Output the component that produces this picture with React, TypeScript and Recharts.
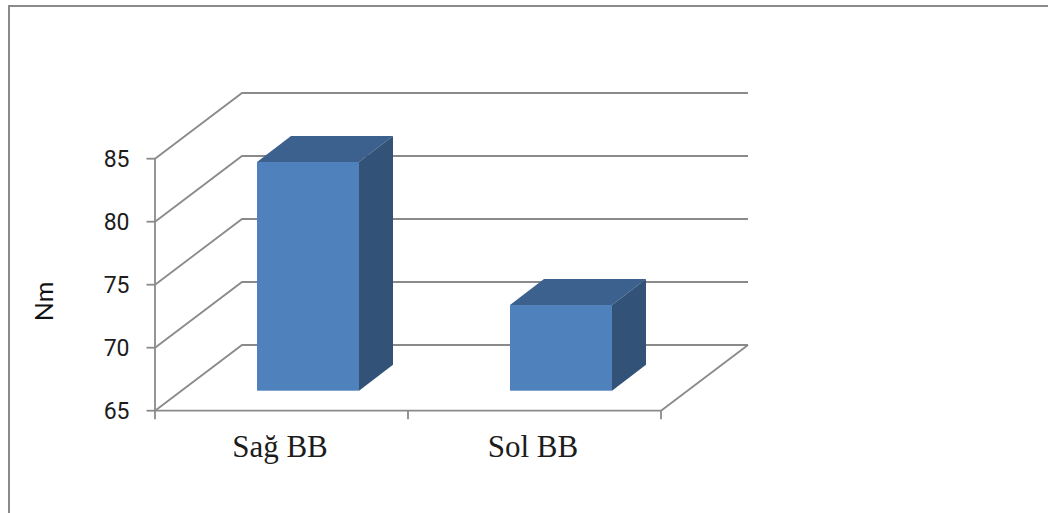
import React from 'react';
import { BarChart, Bar, XAxis, YAxis, CartesianGrid, Label } from 'recharts';

// Series and axis contents
const categories = ['Sağ BB', 'Sol BB'];
const torqueValues = [83.15, 71.8];
const yTicks = [65, 70, 75, 80, 85];
const yDomain = [65, 85];
const yTitle = 'Nm';

const rows = categories.map((name, i) => ({ name, value: torqueValues[i] }));

// Layout of the chart frame
const WIDTH = 1048;
const HEIGHT = 513;
const PLOT_LEFT = 155;
const PLOT_RIGHT = 661;
const PLOT_TOP = 158.7;
const PLOT_BOTTOM = 410.7;

// Oblique projection: wall offset, bar position within the floor, bar depth
const WALL_DX = 87;
const WALL_DY = -65.7;
const BAR_SHIFT_DX = 26;
const BAR_SHIFT_DY = -20;
const BAR_DEPTH_DX = 34;
const BAR_DEPTH_DY = -26;

const LINE = '#8a8a8a';
const LINE_W = 1.8;
const FRONT = '#4F81BD';
const TOP = '#3C618F';
const SIDE = '#325278';
const TEXT = '#1c1c1c';

const GridLine = (props: any) => {
  const { x1, y1, x2 } = props;
  const isFloor = Math.abs(y1 - PLOT_BOTTOM) < 1;
  const bx1 = x1 + WALL_DX;
  const bx2 = x2 + WALL_DX;
  const by = y1 + WALL_DY;
  return (
    <g key={`wall-${y1}`}>
      <polyline points={`${x1},${y1} ${bx1},${by} ${bx2},${by}`} fill="none" stroke={LINE} strokeWidth={LINE_W} />
      {isFloor && <line x1={x2} y1={y1} x2={bx2} y2={by} stroke={LINE} strokeWidth={LINE_W} />}
    </g>
  );
};

const Box = (props: any) => {
  const { x, y, width, height } = props;
  const l = x + BAR_SHIFT_DX;
  const r = l + width;
  const t = y + BAR_SHIFT_DY;
  const b = t + height;
  const dx = BAR_DEPTH_DX;
  const dy = BAR_DEPTH_DY;
  return (
    <g>
      <path d={`M${l},${t} L${l + dx},${t + dy} L${r + dx},${t + dy} L${r},${t} Z`} fill={TOP} />
      <path d={`M${r},${t} L${r + dx},${t + dy} L${r + dx},${b + dy} L${r},${b} Z`} fill={SIDE} />
      <rect x={l} y={t} width={width} height={height} fill={FRONT} />
    </g>
  );
};

const CategoryTick = (props: any) => {
  const { x, index, visibleTicksCount, payload } = props;
  const band = (PLOT_RIGHT - PLOT_LEFT) / visibleTicksCount;
  const left = x - band / 2;
  const right = x + band / 2;
  const tickEnd = PLOT_BOTTOM + 8.5;
  return (
    <g>
      <line x1={left} y1={PLOT_BOTTOM} x2={left} y2={tickEnd} stroke={LINE} strokeWidth={LINE_W} />
      {index === visibleTicksCount - 1 && (
        <line x1={right} y1={PLOT_BOTTOM} x2={right} y2={tickEnd} stroke={LINE} strokeWidth={LINE_W} />
      )}
      <text
        x={x - 1.5}
        y={457}
        textAnchor="middle"
        fontFamily="'Liberation Serif', serif"
        fontSize={31}
        fill={TEXT}
      >
        {payload.value}
      </text>
    </g>
  );
};

// Rotated value-axis title, centred on its own anchor point
const AxisTitle = () => (
  <text
    transform="translate(53 301.5) rotate(-90)"
    textAnchor="middle"
    fontFamily="Lato"
    fontSize={25}
    fill="#111"
  >
    {yTitle}
  </text>
);

export default function App() {
  return (
    <div style={{ position: 'absolute', left: 0, top: 0, width: WIDTH, height: HEIGHT, overflow: 'hidden', background: '#fff' }}>
      <div
        style={{
          position: 'absolute',
          left: 8,
          top: 5,
          right: 0,
          bottom: 0,
          borderTop: `2px solid ${LINE}`,
          borderLeft: `2px solid ${LINE}`,
        }}
      />
      <div style={{ position: 'absolute', left: 0, top: 0 }}>
        <BarChart
          width={WIDTH}
          height={HEIGHT}
          data={rows}
          barSize={102}
          margin={{ top: PLOT_TOP, right: WIDTH - PLOT_RIGHT, bottom: HEIGHT - PLOT_BOTTOM - 60, left: 0 }}
        >
          <CartesianGrid vertical={false} horizontal={GridLine as any} syncWithTicks />
          <XAxis
            dataKey="name"
            height={60}
            interval={0}
            axisLine={{ stroke: LINE, strokeWidth: LINE_W }}
            tickLine={false}
            tick={CategoryTick as any}
          />
          <YAxis
            width={PLOT_LEFT}
            domain={yDomain}
            ticks={yTicks}
            interval={0}
            axisLine={{ stroke: LINE, strokeWidth: LINE_W }}
            tickLine={{ stroke: LINE, strokeWidth: LINE_W }}
            tickSize={8.5}
            tickMargin={17}
            tick={{ fontFamily: 'Roboto', fontSize: 23, fill: TEXT }}
          >
            <Label content={AxisTitle} />
          </YAxis>
          <Bar dataKey="value" shape={Box as any} isAnimationActive={false} />
        </BarChart>
      </div>
    </div>
  );
}
